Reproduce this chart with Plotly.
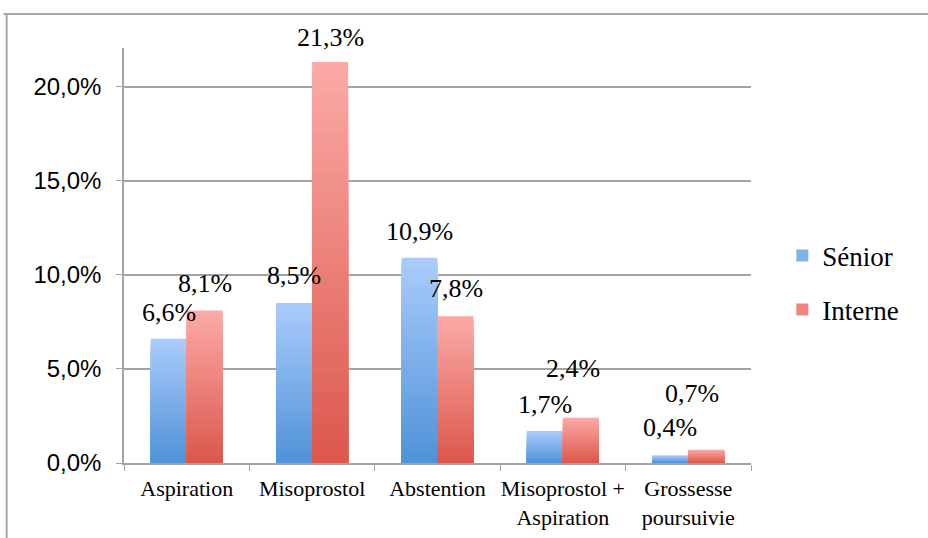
import plotly.graph_objects as go

categories = ["Aspiration", "Misoprostol", "Abstention", "Misoprostol +<br>Aspiration", "Grossesse<br>poursuivie"]
senior = [6.6, 8.5, 10.9, 1.7, 0.4]
interne = [8.1, 21.3, 7.8, 2.4, 0.7]
series_names = ["Sénior", "Interne"]
y_ticks = [0, 5, 10, 15, 20]
y_tick_labels = [f"{v:.1f}%".replace(".", ",") for v in y_ticks]

# styling (not data)
grad_top = {"Sénior": (169, 203, 251), "Interne": (251, 169, 166)}
grad_bot = {"Sénior": (80, 147, 216), "Interne": (220, 88, 76)}
legend_col = {"Sénior": "#80b2ee", "Interne": "#ef8580"}
label_dy = {"Sénior": [26, 28, 26, 27, 28], "Interne": [27, 25, 28, 49, 56]}
label_dx = {"Sénior": [0, 0, 0, 0, 0], "Interne": [0, 0, 0, -8, -14]}
BW = 0.287
N_STEPS = 40

def lerp(c1, c2, t):
    return "rgb(%d,%d,%d)" % tuple(round(a + (b - a) * t) for a, b in zip(c1, c2))

fig = go.Figure()
for si, (name, vals) in enumerate(zip(series_names, [senior, interne])):
    off = -BW if si == 0 else 0.0
    for k in range(N_STEPS):
        frac = (N_STEPS - k) / N_STEPS
        t = k / (N_STEPS - 1)
        fig.add_trace(go.Bar(
            x=categories, y=[v * frac for v in vals],
            width=BW, offset=off,
            marker=dict(color=lerp(grad_top[name], grad_bot[name], t), line=dict(width=0)),
            name=name, showlegend=False, hoverinfo="skip",
        ))
    fig.add_trace(go.Bar(
        x=[categories[0]], y=[0], width=BW, offset=off,
        marker=dict(color=legend_col[name], line=dict(width=0)),
        name=name, showlegend=True, legendrank=si + 1, legendgroup=f"g{si}",
        hoverinfo="skip",
    ))
    for i, v in enumerate(vals):
        fig.add_annotation(
            x=categories[i], y=v, text=f"{v:.1f}%".replace(".", ","),
            showarrow=False, yanchor="middle", xanchor="center",
            xshift=(-18 if si == 0 else 18) + label_dx[name][i], yshift=label_dy[name][i],
            font=dict(family="Liberation Serif", size=26, color="black"),
        )

grid = "#a3a3a3"
fig.update_layout(
    width=928, height=538,
    margin=dict(l=124, r=177, t=48, b=75, autoexpand=False),
    barmode="overlay",
    plot_bgcolor="white", paper_bgcolor="white",
    separators=", ",
    showlegend=True,
    legend=dict(x=1.05, y=0.434, xanchor="left", yanchor="middle",
                font=dict(family="Liberation Serif", size=27, color="black"),
                tracegroupgap=16, traceorder="grouped", bgcolor="rgba(0,0,0,0)",
                itemwidth=30),
    xaxis=dict(type="category", showline=True, linecolor=grid, linewidth=1.5,
               ticks="outside", tickson="boundaries", ticklen=6, tickcolor=grid,
               ticklabelstandoff=5, tickangle=0, automargin=False,
               tickfont=dict(family="Liberation Serif", size=22, color="black"),
               showgrid=False, fixedrange=True),
    yaxis=dict(range=[0, 22.05], tickvals=y_ticks, ticktext=y_tick_labels,
               showline=True, linecolor=grid, linewidth=1.5, ticks="outside", ticklen=6,
               tickcolor=grid, showgrid=True, gridcolor=grid, gridwidth=1.5,
               zeroline=False, automargin=False, fixedrange=True, ticklabelstandoff=10,
               tickfont=dict(family="Liberation Sans", size=24, color="black")),
    shapes=[
        dict(type="line", xref="paper", yref="paper", x0=-0.192, x1=1.4, y0=1.0819, y1=1.0819,
             line=dict(color="#a6a6a6", width=2)),
        dict(type="line", xref="paper", yref="paper", x0=-0.1872, x1=-0.1872, y0=1.0819, y1=-0.25,
             line=dict(color="#a6a6a6", width=2)),
    ],
)
fig.write_html("out.html", config={"displayModeBar": False},
               post_script="document.body.style.margin='0';")
